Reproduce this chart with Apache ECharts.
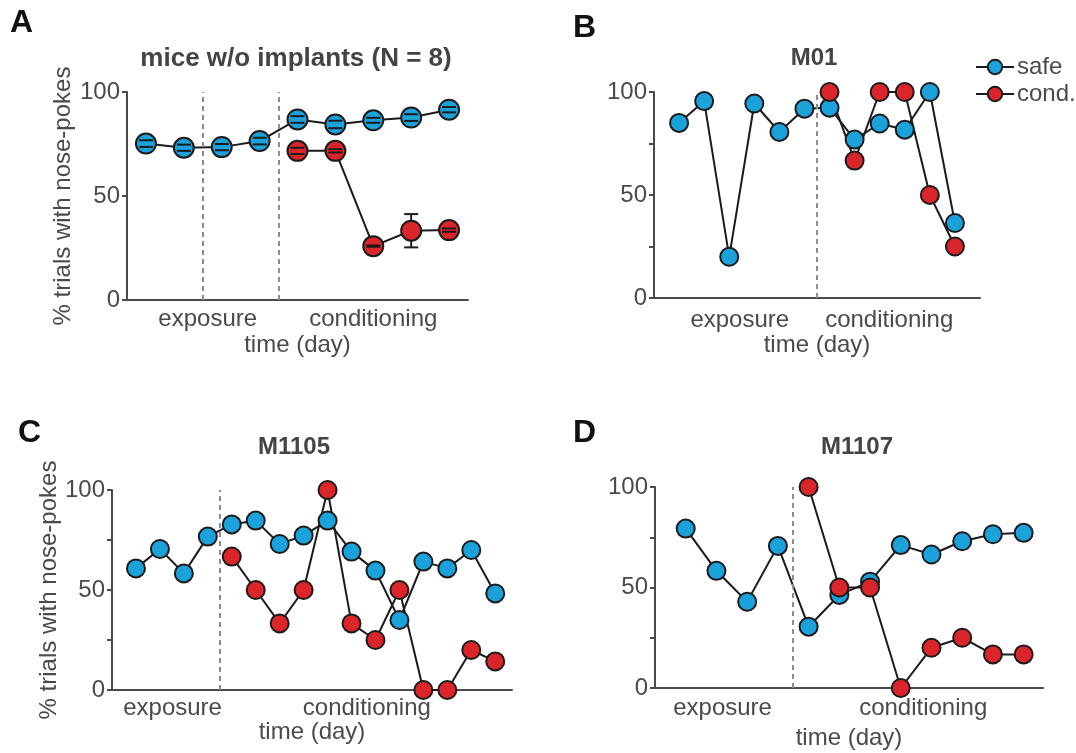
<!DOCTYPE html>
<html>
<head>
<meta charset="utf-8">
<script src="https://cdn.jsdelivr.net/npm/echarts@6/dist/echarts.min.js"></script>
<style>
  html, body { margin: 0; padding: 0; background: #fff; }
  #chart { width: 1076px; height: 753px; }
</style>
</head>
<body>
<div id="chart"></div>
<script>
// panel A: group mean (N = 8), with error bars
const daysA = [1, 2, 3, 4, 5, 6, 7, 8, 9]
const safeA = [75.2, 73.2, 73.5, 76.4, 86.8, 84.4, 86.4, 87.7, 91.5]
const safeErrA = [1.6, 1.5, 1.5, 1.6, 1.6, 1.8, 1.2, 1.6, 1.3]
const condDaysA = [5, 6, 7, 8, 9]
const condA = [71.7, 71.7, 25.9, 33.3, 33.6]
const condErrA = [1.5, 0.8, 0.3, 8, 0.8]

// panel B: M01
const daysB = [1, 2, 3, 4, 5, 6, 7, 8, 9, 10, 11, 12]
const safeB = [85, 95.6, 20, 94.4, 80.6, 91.9, 92.4, 76.9, 84.7, 81.7, 100, 36.4]
const condDaysB = [7, 8, 9, 10, 11, 12]
const condB = [100, 66.7, 100, 100, 50, 25]

// panel C: M1105
const daysC = [1, 2, 3, 4, 5, 6, 7, 8, 9, 10, 11, 12, 13, 14, 15, 16]
const safeC = [60.8, 70.5, 58.3, 76.7, 82.8, 84.7, 73, 77.2, 84.7, 69.2, 59.7, 35, 64.2, 60.8, 70, 48.3]
const condDaysC = [5, 6, 7, 8, 9, 10, 11, 12, 13, 14, 15, 16]
const condC = [66.7, 50, 33.3, 50, 100, 33.3, 25, 50, 0, 0, 20, 14.3]

// panel D: M1107
const daysD = [1, 2, 3, 4, 5, 6, 7, 8, 9, 10, 11, 12]
const safeD = [79.3, 58.3, 42.9, 70.7, 30.5, 46.3, 52.9, 71.1, 66.4, 73, 76.5, 77.2]
const condDaysD = [5, 6, 7, 8, 9, 10, 11, 12]
const condD = [100, 50, 50, 0, 20, 25, 16.7, 16.7]

// phase boundaries (dashed lines) and phase label centres, in days
const boundsA = [2.5, 4.5]
const boundsB = [6.5]
const boundsC = [4.5]
const boundsD = [4.5]
const phaseNames = ['exposure', 'conditioning']
const phaseXA = [2.63, 7.0]
const phaseXB = [3.42, 9.38]
const phaseXC = [2.53, 10.64]
const phaseXD = [2.2, 8.73]

const BLUE = '#1ba2db'
const RED = '#da252a'
const INK = '#1b1b1b'
const GREY = '#4a4a4a'
const FONT = 'Liberation Sans, Arial, sans-serif'

const chart = echarts.init(document.getElementById('chart'))

const panels = [
  { letter: 'A', letterPos: [10, 7], title: 'mice w/o implants (N = 8)', titleSize: 26, titlePos: [296, 59],
    grid: { left: 127, right: 608, top: 92, bottom: 453 }, xMin: 0.5, xMax: 9.5, yInterval: 50,
    yName: true, yNameGap: 52, xNameGap: 33, size: 20,
    safe: [daysA, safeA], cond: [condDaysA, condA], bounds: boundsA, phaseX: phaseXA, phaseY: 19 },
  { letter: 'B', letterPos: [573, 12], title: 'M01', titleSize: 24, titlePos: [814, 58],
    grid: { left: 654, right: 96, top: 92, bottom: 455 }, xMin: 0, xMax: 13, yInterval: 25,
    yName: false, xNameGap: 35, size: 18,
    safe: [daysB, safeB], cond: [condDaysB, condB], bounds: boundsB, phaseX: phaseXB, phaseY: 22 },
  { letter: 'C', letterPos: [18, 417], title: 'M1105', titleSize: 24, titlePos: [294, 447],
    grid: { left: 112, right: 564, top: 490, bottom: 63 }, xMin: 0, xMax: 16.7, yInterval: 25,
    yName: true, yNameGap: 46, xNameGap: 30, size: 18,
    safe: [daysC, safeC], cond: [condDaysC, condC], bounds: boundsC, phaseX: phaseXC, phaseY: 18 },
  { letter: 'D', letterPos: [573, 417], title: 'M1107', titleSize: 24, titlePos: [857, 447],
    grid: { left: 655, right: 33, top: 487, bottom: 65 }, xMin: 0, xMax: 12.63, yInterval: 25,
    yName: false, xNameGap: 38, size: 18,
    safe: [daysD, safeD], cond: [condDaysD, condD], bounds: boundsD, phaseX: phaseXD, phaseY: 20 }
]

const pairs = (xs, ys) => xs.map((x, i) => [x, ys[i]])

const grid = []
const xAxis = []
const yAxis = []
const series = []
const graphic = []

panels.forEach((p, i) => {
  grid.push({ ...p.grid, containLabel: false, outerBoundsMode: 'none' })
  xAxis.push({
    type: 'value', gridIndex: i, min: p.xMin, max: p.xMax,
    name: 'time (day)', nameLocation: 'middle', nameGap: p.xNameGap,
    nameTextStyle: { fontSize: 24, color: GREY, fontFamily: FONT },
    axisLine: { lineStyle: { color: GREY, width: 2 } },
    axisTick: { show: false }, axisLabel: { show: false }, splitLine: { show: false }
  })
  yAxis.push({
    type: 'value', gridIndex: i, min: 0, max: 100, interval: p.yInterval,
    name: p.yName ? '% trials with nose-pokes' : '', nameLocation: 'middle', nameGap: p.yNameGap,
    nameTextStyle: { fontSize: 24, color: GREY, fontFamily: FONT },
    axisLine: { show: true, lineStyle: { color: GREY, width: 2 } },
    axisTick: { show: true, length: 5, lineStyle: { color: GREY, width: 2 } },
    axisLabel: {
      margin: 7, fontSize: 24, color: GREY, fontFamily: FONT,
      formatter: v => (v % 50 === 0 ? String(v) : '')
    },
    splitLine: { show: false }
  })

  const common = {
    type: 'line', xAxisIndex: i, yAxisIndex: i, z: 3,
    symbol: 'circle', symbolSize: p.size, showAllSymbol: true,
    lineStyle: { color: INK, width: 2 }, animation: false, silent: true
  }
  series.push({
    ...common, name: 'safe', data: pairs(p.safe[0], p.safe[1]),
    itemStyle: { color: BLUE, borderColor: INK, borderWidth: 2 },
    markLine: {
      symbol: 'none', silent: true, label: { show: false },
      lineStyle: { color: '#8c8c8c', width: 2, type: [5, 4] },
      data: p.bounds.map(b => ({ xAxis: b }))
    }
  })
  series.push({
    ...common, name: 'cond.', data: pairs(p.cond[0], p.cond[1]),
    itemStyle: { color: RED, borderColor: INK, borderWidth: 2 }
  })

  graphic.push({
    type: 'text', left: p.letterPos[0], top: p.letterPos[1],
    style: { text: p.letter, font: 'bold 32px ' + FONT, fill: '#111' }
  })
  graphic.push({
    type: 'text', x: p.titlePos[0], y: p.titlePos[1],
    style: { text: p.title, font: 'bold ' + p.titleSize + 'px ' + FONT, fill: '#444', align: 'center', verticalAlign: 'middle' }
  })
})

// error bars for the group panel: stems sit under the markers, caps on top
const errSeries = (xs, ys, es, part) => ({
  type: 'custom', xAxisIndex: 0, yAxisIndex: 0, z: part === 'stem' ? 1 : 10,
  silent: true, animation: false,
  data: xs.map((x, i) => [x, ys[i], es[i]]),
  renderItem: (params, api) => {
    const x = api.value(0), y = api.value(1), e = api.value(2)
    const hi = api.coord([x, y + e])
    const lo = api.coord([x, y - e])
    const w = 7
    const st = { stroke: INK, lineWidth: 2 }
    if (part === 'stem') {
      return { type: 'line', shape: { x1: hi[0], y1: hi[1], x2: lo[0], y2: lo[1] }, style: st }
    }
    return {
      type: 'group',
      children: [
        { type: 'line', shape: { x1: hi[0] - w, y1: hi[1], x2: hi[0] + w, y2: hi[1] }, style: st },
        { type: 'line', shape: { x1: lo[0] - w, y1: lo[1], x2: lo[0] + w, y2: lo[1] }, style: st }
      ]
    }
  }
})
series.push(errSeries(daysA, safeA, safeErrA, 'stem'))
series.push(errSeries(condDaysA, condA, condErrA, 'stem'))
series.push(errSeries(daysA, safeA, safeErrA, 'cap'))
series.push(errSeries(condDaysA, condA, condErrA, 'cap'))

chart.setOption({
  backgroundColor: '#fff',
  animation: false,
  textStyle: { fontFamily: FONT },
  legend: {
    data: ['safe', 'cond.'], orient: 'vertical', left: 970, top: 50,
    itemWidth: 38, itemHeight: 18, itemGap: 3, selectedMode: false,
    textStyle: { fontSize: 24, color: GREY, fontFamily: FONT, padding: [0, 0, 0, -2] }
  },
  grid, xAxis, yAxis, series, graphic
})

// phase labels under each x axis, placed in data units
panels.forEach((p, i) => {
  const y0 = chart.convertToPixel({ yAxisIndex: i }, 0)
  p.phaseX.forEach((x, k) => {
    graphic.push({
      type: 'text', x: chart.convertToPixel({ xAxisIndex: i }, x), y: y0 + p.phaseY,
      style: { text: phaseNames[k], font: '24px ' + FONT, fill: GREY, align: 'center', verticalAlign: 'middle' }
    })
  })
})
chart.setOption({ graphic })
</script>
</body>
</html>
